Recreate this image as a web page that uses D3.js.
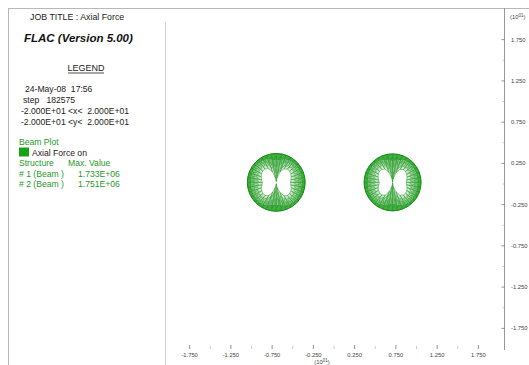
<!DOCTYPE html>
<html>
<head>
<meta charset="utf-8">
<script src="https://cdn.jsdelivr.net/npm/d3@7"></script>
<style>
  html, body { margin: 0; padding: 0; background: #fff; }
  svg { display: block; }
  text { font-family: "Liberation Sans", Arial, sans-serif; white-space: pre; }
</style>
</head>
<body>
<svg id="chart" width="529" height="365"></svg>
<script>
// Model extent (m) and axis tick labels (x 10^1)
const domainX = [-20, 20];
const domainY = [-20, 20];
const majorTicks = [-1.75, -1.25, -0.75, -0.25, 0.25, 0.75, 1.25, 1.75];
const minorTicks = [-1.5, -1.0, -0.5, 0.0, 0.5, 1.0, 1.5];
const tickLabels = ["-1.750", "-1.250", "-0.750", "-0.250", "0.250", "0.750", "1.250", "1.750"];

// Beam structures (tunnel linings): centre x, centre y, radius (m)
const structures = ["# 1 (Beam )", "# 2 (Beam )"];
const centerX = [-7.0, 7.1];
const centerY = [0.2, 0.2];
const radius = [3.5, 3.45];
const maxValue = ["1.733E+06", "1.751E+06"];

// Axial force at lining nodes, every 10 degrees counter-clockwise from east (MN)
const angleDeg = [0,10,20,30,40,50,60,70,80,90,100,110,120,130,140,150,160,170,
                  180,190,200,210,220,230,240,250,260,270,280,290,300,310,320,330,340,350];
const forceBeam1 = [0.90,0.86,0.80,0.74,0.70,0.72,0.82,1.10,1.52,1.733,1.50,1.08,0.80,0.71,0.69,0.73,0.80,0.87,
                    0.92,0.88,0.81,0.75,0.71,0.73,0.84,1.14,1.48,1.69,1.46,1.12,0.83,0.72,0.70,0.74,0.80,0.87];
const forceBeam2 = [0.91,0.87,0.81,0.75,0.71,0.73,0.83,1.12,1.54,1.751,1.52,1.10,0.81,0.72,0.70,0.74,0.81,0.88,
                    0.93,0.89,0.82,0.76,0.72,0.74,0.85,1.16,1.50,1.71,1.48,1.14,0.84,0.73,0.71,0.75,0.81,0.88];
const forces = [forceBeam1, forceBeam2];

const svg = d3.select("#chart");
const grey = "#b8b8b8";
const green = "#1f9a1f";

// Plot scales: model coordinates -> pixels
const x = d3.scaleLinear().domain(domainX).range([169, 499]);
const y = d3.scaleLinear().domain(domainY).range([349, 19]);
const xt = d3.scaleLinear().domain([-2, 2]).range(x.range());
const yt = d3.scaleLinear().domain([-2, 2]).range(y.range());

// Frame
svg.append("line").attr("x1", 8).attr("x2", 529).attr("y1", 8.5).attr("y2", 8.5)
  .attr("stroke", grey).attr("stroke-width", 1);
svg.append("line").attr("x1", 8.5).attr("x2", 8.5).attr("y1", 8).attr("y2", 365)
  .attr("stroke", grey).attr("stroke-width", 1);
svg.append("line").attr("x1", 165.5).attr("x2", 165.5).attr("y1", 22).attr("y2", 365)
  .attr("stroke", "#d0d0d0").attr("stroke-width", 1);

// Legend panel
const leg = svg.append("g").attr("font-size", 8.6).attr("fill", "#222");
leg.append("text").attr("x", 30).attr("y", 19.5).attr("font-size", 8.8).text("JOB TITLE : Axial Force");
leg.append("text").attr("x", 24).attr("y", 42).attr("font-size", 11.5)
  .attr("font-weight", "bold").attr("font-style", "italic").attr("fill", "#111").text("FLAC (Version 5.00)");
leg.append("text").attr("x", 86).attr("y", 71).attr("text-anchor", "middle").attr("font-size", 9)
  .text("LEGEND");
leg.append("line").attr("x1", 68).attr("x2", 104).attr("y1", 73).attr("y2", 73)
  .attr("stroke", "#222").attr("stroke-width", 0.8);
leg.append("text").attr("x", 25).attr("y", 92).text("24-May-08  17:56");
leg.append("text").attr("x", 23).attr("y", 103).text("step   182575");
leg.append("text").attr("x", 21).attr("y", 114).text("-2.000E+01 <x<  2.000E+01");
leg.append("text").attr("x", 21).attr("y", 125).text("-2.000E+01 <y<  2.000E+01");

const gl = svg.append("g").attr("font-size", 8.6).attr("fill", green);
gl.append("text").attr("x", 19).attr("y", 145).text("Beam Plot");
gl.append("rect").attr("x", 19).attr("y", 147.5).attr("width", 10).attr("height", 9).attr("fill", "#17a317");
svg.append("text").attr("x", 32).attr("y", 156).attr("font-size", 8.6).attr("fill", "#222").text("Axial Force on");
gl.append("text").attr("x", 19).attr("y", 166).text("Structure");
gl.append("text").attr("x", 68).attr("y", 166).text("Max. Value");
structures.forEach((s, i) => {
  gl.append("text").attr("x", 19).attr("y", 176.5 + i * 10.5).text(s);
  gl.append("text").attr("x", 78).attr("y", 176.5 + i * 10.5).text(maxValue[i]);
});

// Right (y) axis
const axisX = 504.5;
svg.append("line").attr("x1", axisX).attr("x2", axisX).attr("y1", 8).attr("y2", 350)
  .attr("stroke", "#999").attr("stroke-width", 1);
const ra = svg.append("g").attr("font-size", 5.8).attr("fill", "#444");
majorTicks.forEach((v, i) => {
  ra.append("line").attr("x1", axisX - 3).attr("x2", axisX).attr("y1", yt(v)).attr("y2", yt(v))
    .attr("stroke", "#777").attr("stroke-width", 0.8);
  ra.append("text").attr("x", 511).attr("y", yt(v) + 2).text(tickLabels[i]);
});
minorTicks.forEach(v => {
  ra.append("line").attr("x1", axisX - 2).attr("x2", axisX).attr("y1", yt(v)).attr("y2", yt(v))
    .attr("stroke", "#aaa").attr("stroke-width", 0.6);
});
const pw1 = ra.append("text").attr("x", 510).attr("y", 19);
pw1.append("tspan").text("(10");
pw1.append("tspan").attr("dy", -2).attr("font-size", 4.5).text("01");
pw1.append("tspan").attr("dy", 2).text(")");

// Bottom (x) axis
const ba = svg.append("g").attr("font-size", 5.8).attr("fill", "#444");
majorTicks.forEach((v, i) => {
  ba.append("line").attr("x1", xt(v)).attr("x2", xt(v)).attr("y1", 345).attr("y2", 349)
    .attr("stroke", "#777").attr("stroke-width", 0.8);
  ba.append("text").attr("x", xt(v)).attr("y", 357).attr("text-anchor", "middle").text(tickLabels[i]);
});
minorTicks.forEach(v => {
  ba.append("line").attr("x1", xt(v)).attr("x2", xt(v)).attr("y1", 346).attr("y2", 349)
    .attr("stroke", "#aaa").attr("stroke-width", 0.6);
});
const pw2 = ba.append("text").attr("x", 322).attr("y", 364).attr("text-anchor", "middle");
pw2.append("tspan").text("(10");
pw2.append("tspan").attr("dy", -2).attr("font-size", 4.5).text("01");
pw2.append("tspan").attr("dy", 2).text(")");

// Axial force diagrams: each lining element is drawn as a band pointing
// inward, its depth proportional to the element's axial force; the band
// is shaded in steps that fade toward its inner edge.
const forceScale = d3.scaleLinear().domain([0, 1.75]).range([0, 3.45]);
const steps = [0, 0.25, 0.5, 0.75, 1.0];
const stepOpacity = [0.85, 0.62, 0.42, 0.22];
const line = d3.line().x(p => x(p[0])).y(p => y(p[1]));
structures.forEach((s, k) => {
  const g = svg.append("g");
  const cx = centerX[k], cy = centerY[k], r = radius[k], f = forces[k];
  const n = angleDeg.length;
  const node = j => {
    const a = angleDeg[j % n] * Math.PI / 180;
    return { ux: Math.cos(a), uy: Math.sin(a), f: f[j % n] };
  };
  const at = (nd, t) => [cx + nd.ux * (r - forceScale(nd.f) * t), cy + nd.uy * (r - forceScale(nd.f) * t)];
  for (let j = 0; j < n; j++) {
    const a = node(j), b = node(j + 1);
    for (let s2 = 0; s2 < 4; s2++) {
      const t0 = steps[s2], t1 = steps[s2 + 1];
      g.append("path")
        .attr("d", line([at(a, t0), at(b, t0), at(b, t1), at(a, t1)]) + "Z")
        .attr("fill", "#22a022").attr("fill-opacity", stepOpacity[s2]).attr("stroke", "none");
    }
    // element outline and a curled stroke across the band
    g.append("path")
      .attr("d", line([at(a, 0), at(b, 0), at(b, 1), at(a, 1)]) + "Z")
      .attr("fill", "none").attr("stroke", "#0c8c0c").attr("stroke-width", 0.45).attr("stroke-opacity", 0.85);
    g.append("path")
      .attr("d", d3.line().curve(d3.curveBasis).x(p => x(p[0])).y(p => y(p[1]))(
        [at(a, 0.1), at(b, 0.3), at(a, 0.55), at(b, 0.8)]))
      .attr("fill", "none").attr("stroke", "#0b7f0b").attr("stroke-width", 0.5).attr("stroke-opacity", 0.7);
  }
  // lining itself
  g.append("circle").attr("cx", x(cx)).attr("cy", y(cy))
    .attr("r", x(cx + r) - x(cx)).attr("fill", "none")
    .attr("stroke", "#138f13").attr("stroke-width", 1);
});
</script>
</body>
</html>
